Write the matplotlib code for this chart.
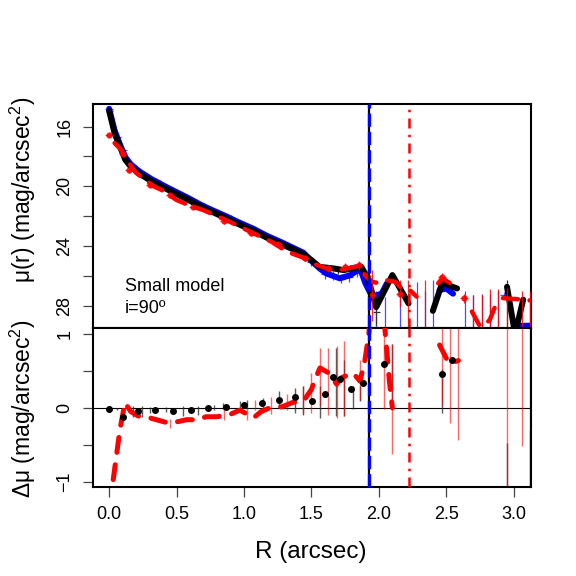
import numpy as np
import matplotlib
matplotlib.use("Agg")
import matplotlib.pyplot as plt

plt.rcParams["font.family"] = ["Liberation Sans", "DejaVu Sans"]
plt.rcParams["mathtext.default"] = "regular"

nan = np.nan

# ---- top panel: surface brightness profiles ----
BLACK_R = [0.0, 0.04, 0.08, 0.12, 0.16, 0.22, 0.32, 0.44, 0.59, 0.68, 0.76, 0.87, 0.95,
           1.07, 1.17, 1.27, 1.37, 1.44, 1.50, 1.56, 1.66, 1.74, 1.80, 1.87, 1.92, 1.98,
           2.10, 2.22, nan, 2.40, 2.47, 2.58, nan, 2.95, 3.01, 3.07]
BLACK_MU = [14.95, 16.44, 17.34, 18.23, 18.68, 19.13, 19.69, 20.25, 20.92, 21.37, 21.7, 22.15, 22.5,
            22.98, 23.45, 23.85, 24.25, 24.55, 24.95, 25.4, 25.5, 25.62, 25.5, 25.4, 26.2, 28.1,
            25.95, 27.85, nan, 28.35, 26.47, 26.85, nan, 26.74, 29.9, 27.6]

BLUE_R = [0.0, 0.04, 0.08, 0.12, 0.16, 0.22, 0.32, 0.44, 0.59, 0.68, 0.76, 0.87, 0.95,
          1.07, 1.17, 1.27, 1.37, 1.44, 1.50, 1.56, 1.61, 1.71, 1.79, 1.86, 1.90, 1.95,
          2.02, 2.06, nan, 2.45, 2.50, 2.55, nan, 3.04, 3.12]
BLUE_MU = [14.8, 16.25, 17.2, 18.05, 18.52, 18.98, 19.55, 20.12, 20.8, 21.24, 21.58, 22.02, 22.37,
           22.85, 23.32, 23.72, 24.15, 24.45, 25.0, 25.5, 25.84, 26.17, 25.95, 25.5, 26.5, 27.4,
           27.2, 26.5, nan, 26.96, 26.85, 27.2, nan, 29.35, 29.35]

RED_R = [0.04, 0.09, 0.12, 0.2, 0.33, 0.39, 0.5, 0.6, 0.7, 0.8, 0.9, 1.07, 1.2, 1.32, 1.43,
         1.51, 1.64, 1.74, 1.84, 1.91, 1.95, 2.0, 2.06, 2.12, 2.17, 2.23, 2.28, nan,
         2.44, 2.47, 2.53, 2.58, nan, 2.69, 2.75, 2.82, 2.86, nan, 2.92, 3.0, 3.07, 3.12]
RED_MU = [17.1, 17.56, 18.1, 19.1, 20.0, 20.25, 20.92, 21.3, 21.6, 22.0, 22.4, 23.15, 23.7, 24.39, 24.75,
          25.17, 25.6, 25.57, 25.35, 26.07, 26.4, 26.5, 26.3, 26.4, 26.85, 26.96, 27.4, nan,
          26.5, 26.17, 26.5, 26.85, nan, 28.4, 29.4, 29.0, 28.1, nan, 27.5, 27.55, 27.6, 27.65]

# error crosses (centre, half-length); long ones run off the bottom
BLUE_PT_R = [0.0, 0.06, 0.1, 0.2, 0.35, 0.5, 0.7, 0.9, 1.1, 1.3, 1.5, 1.6, 1.66, 1.72, 1.78, 1.84,
             1.98, 2.045, 2.157, 2.28, 2.342, 2.404, 2.64, 2.70, 2.763, 2.824, 2.886, 2.93, 3.12]
BLUE_PT_MU = [14.8, 16.7, 17.55, 18.75, 19.6, 20.4, 21.3, 22.1, 23.0, 23.9, 25.1, 25.9, 26.0, 26.2, 26.1, 25.8,
              30.5, 30.5, 30.5, 30.5, 30.5, 30.5, 30.5, 30.5, 30.5, 30.5, 30.5, 27.3, 30.5]
BLUE_PT_ERR = [0.15, 0.2, 0.2, 0.15, 0.15, 0.15, 0.15, 0.2, 0.2, 0.2, 0.25, 0.3, 0.3, 0.3, 0.3, 0.3,
               3.5, 3.1, 3.5, 4.1, 3.5, 4.2, 3.5, 3.2, 3.3, 3.3, 3.5, 0.2, 3.0]

RED_PT_R = [0.0, 0.1, 0.15, 0.3, 0.45, 0.62, 0.85, 1.05, 1.25, 1.45, 1.62, 1.75, 1.85, 1.91,
            1.946, 2.157, 2.216, 2.342, 2.466, 2.63, 2.70, 2.766, 2.824, 2.886, 2.948, 3.06, 3.12]
RED_PT_MU = [16.56, 17.8, 18.9, 19.9, 20.6, 21.4, 22.3, 23.1, 23.9, 24.8, 25.5, 25.4, 25.3, 26.0,
             27.3, 27.2, 30.5, 30.0, 26.1, 27.5, 30.5, 30.5, 30.5, 30.0, 30.5, 30.5, 30.5]
RED_PT_ERR = [0.1, 0.2, 0.2, 0.15, 0.15, 0.15, 0.2, 0.2, 0.2, 0.2, 0.25, 0.25, 0.3, 0.3,
              1.7, 0.9, 4.2, 3.7, 0.3, 0.3, 3.2, 3.2, 3.6, 3.1, 3.7, 3.5, 3.5]

BLACK_PT_R = [0.0, 0.05, 0.12, 0.25, 0.5, 0.8, 1.1, 1.4, 1.7, 1.98, 2.948]
BLACK_PT_MU = [14.95, 16.6, 18.2, 19.3, 20.5, 21.8, 23.1, 24.35, 25.6, 28.4, 30.5]
BLACK_PT_ERR = [0.15, 0.2, 0.2, 0.15, 0.15, 0.15, 0.2, 0.2, 0.25, 0.9, 4.2]

# ---- bottom panel: residuals ----
DOT_R = [0.0, 0.104, 0.215, 0.341, 0.472, 0.604, 0.734, 0.866, 0.999, 1.13, 1.259, 1.38,
         1.504, 1.597, 1.657, 1.711, 1.793, 1.882, 2.04, 2.466, 2.54]
DOT_D = [-0.014, -0.12, -0.046, -0.023, -0.04, -0.027, 0.0, 0.014, 0.04, 0.068, 0.11, 0.15,
         0.099, 0.194, 0.415, 0.385, 0.26, 0.34, 0.596, 0.455, 0.65]

RES_R = [0.03, 0.08, 0.117, 0.16, 0.215, 0.3, 0.45, 0.574, 0.648, 0.72, 0.80, 0.895, 0.97,
         1.07, 1.13, 1.19, 1.28, 1.365, 1.44, 1.50, 1.526, 1.563, 1.63, 1.687, 1.724, 1.81,
         1.86, 1.897, 1.925, 1.96, 2.02, 2.045, 2.06, 2.077, 2.1, nan, 2.45, 2.52, 2.59]
RES_D = [-0.97, -0.29, 0.07, -0.05, -0.11, -0.135, -0.21, -0.16, -0.16, -0.12, -0.12, -0.09, -0.03,
         -0.135, -0.046, 0.0, 0.014, 0.076, 0.09, 0.25, 0.38, 0.54, 0.47, 0.32, 0.41, 0.47,
         0.36, 0.65, 1.0, 1.6, 1.6, 1.06, 0.745, 0.38, 0.0, nan, 0.85, 0.6, 0.64]

BLK_BAR_R = [0.055, 0.178, 0.24, 0.30, 0.42, 0.55, 0.66, 0.78, 0.846, 0.97, 1.02, 1.14, 1.26,
             1.378, 1.44, 1.563, 1.68, 1.74, 1.805, 1.86, 2.1, 2.466, 2.948, 3.12]
BLK_BAR_LO = [-0.03, -0.12, -0.12, -0.07, -0.06, -0.11, -0.09, -0.03, -0.02, 0.0, -0.02, -0.07, 0.0,
              -0.07, -0.09, -0.14, -0.11, -0.11, -0.02, 0.09, 0.07, -0.07, -1.1, -1.1]
BLK_BAR_HI = [0.0, 0.03, 0.03, 0.014, 0.014, 0.03, 0.03, 0.045, 0.06, 0.09, 0.10, 0.14, 0.23,
              0.27, 0.29, 0.29, 0.81, 0.65, 0.29, 0.29, 0.86, 0.52, -0.47, -0.3]

RED_BAR_R = [0.45, 0.85, 1.02, 1.08, 1.2, 1.316, 1.44, 1.50, 1.56, 1.625, 1.687, 1.74, 1.86,
             2.04, 2.1, 2.466, 2.53, 2.59, 2.948, 3.06, 3.12]
RED_BAR_LO = [-0.27, -0.16, -0.16, -0.03, -0.08, -0.03, -0.07, -0.07, 0.02, -0.1, -0.135, -0.11, 0.11,
              -0.02, -0.63, 0.02, -0.2, -0.43, -1.1, -0.52, -1.1]
RED_BAR_HI = [-0.15, -0.02, -0.01, 0.11, 0.15, 0.19, 0.29, 0.47, 0.81, 0.81, 0.84, 0.9, 0.65,
              1.1, 0.86, 1.1, 1.1, 1.1, 1.1, 1.1, 1.1]

R_SEEING = 1.924
R_LIMIT = 2.223

fig = plt.figure(figsize=(5.76, 5.76), dpi=100)
W = 576.0
ax1 = fig.add_axes([93 / W, 1 - 328 / W, 438 / W, 224 / W])
ax2 = fig.add_axes([93 / W, 1 - 487 / W, 438 / W, 159 / W])

# top panel
ax1.errorbar(BLUE_PT_R, BLUE_PT_MU, yerr=BLUE_PT_ERR, xerr=0.03, fmt="none",
             ecolor="blue", elinewidth=0.9, alpha=0.7, zorder=2)
ax1.plot(BLUE_R, BLUE_MU, color="blue", lw=4.3, solid_capstyle="round", zorder=3)
ax1.errorbar(BLACK_PT_R, BLACK_PT_MU, yerr=BLACK_PT_ERR, xerr=0.025, fmt="none",
             ecolor="#333333", elinewidth=0.9, zorder=4)
ax1.plot(BLACK_R, BLACK_MU, color="black", lw=4.3, solid_capstyle="round", zorder=4)
ax1.errorbar(RED_PT_R, RED_PT_MU, yerr=RED_PT_ERR, xerr=0.03, fmt="o", ms=3.5,
             color="red", ecolor="red", elinewidth=0.9, alpha=0.85, zorder=5)
ax1.plot(RED_R, RED_MU, color="red", lw=3.2, dashes=(3.4, 2.6),
         dash_capstyle="round", zorder=6)

ax1.text(0.116, 26.69, "Small model", fontsize=13, va="center")
ax1.text(0.116, 28.17, "i=90º", fontsize=13, va="center")

ax1.set_xlim(-0.12, 3.128)
ax1.set_ylim(29.5, 14.48)
ax1.set_xticks([])
ax1.set_yticks([16, 18, 20, 22, 24, 26, 28])
ax1.set_yticklabels(["16", "", "20", "", "24", "", "28"])

# bottom panel
ax2.axhline(0, color="black", lw=0.8, zorder=1)
ax2.vlines(BLK_BAR_R, BLK_BAR_LO, BLK_BAR_HI, color="#333333", lw=1.0, alpha=0.8, zorder=2)
ax2.vlines(RED_BAR_R, RED_BAR_LO, RED_BAR_HI, color="red", lw=1.0, alpha=0.6, zorder=2)
ax2.plot(RES_R, RES_D, color="red", lw=3.6, dashes=(3, 2.5),
         dash_capstyle="round", zorder=3)
ax2.plot(DOT_R, DOT_D, "o", color="black", ms=4, zorder=4)

ax2.set_xlim(-0.12, 3.128)
ax2.set_ylim(-1.07, 1.08)
ax2.set_xticks([0, 0.5, 1.0, 1.5, 2.0, 2.5, 3.0])
ax2.set_xticklabels(["0.0", "0.5", "1.0", "1.5", "2.0", "2.5", "3.0"])
ax2.set_yticks([-1, -0.5, 0, 0.5, 1])
ax2.set_yticklabels(["\u22121", "", "0", "", "1"])

for ax in (ax1, ax2):
    ax.axvline(R_SEEING, color="black", lw=1.6, zorder=7)
    ax.axvline(R_SEEING, color="blue", lw=2.4, dashes=(4, 1.5), zorder=8)
    ax.axvline(R_LIMIT, color="red", lw=1.8, dashes=(4, 2.5, 1, 2.5), zorder=8)
    for s in ax.spines.values():
        s.set_linewidth(1.5)
    ax.tick_params(direction="out", length=7, width=0.9, color="#444444", labelsize=13, pad=7)
    for lab in ax.get_yticklabels():
        lab.set_rotation(90)
        lab.set_va("center")

fig.text(311 / W, 1 - 551.7 / W, "R (arcsec)", fontsize=17.5, ha="center", va="center")
fig.text(23 / W, 1 - 190 / W, "$\\mu$(r) (mag/arcsec$^{2}$)", fontsize=16.5,
         rotation=90, ha="center", va="center")
fig.text(23 / W, 1 - 409 / W, "$\\Delta\\mu$ (mag/arcsec$^{2}$)", fontsize=16.5,
         rotation=90, ha="center", va="center")

fig.savefig("out.png", dpi=100)
